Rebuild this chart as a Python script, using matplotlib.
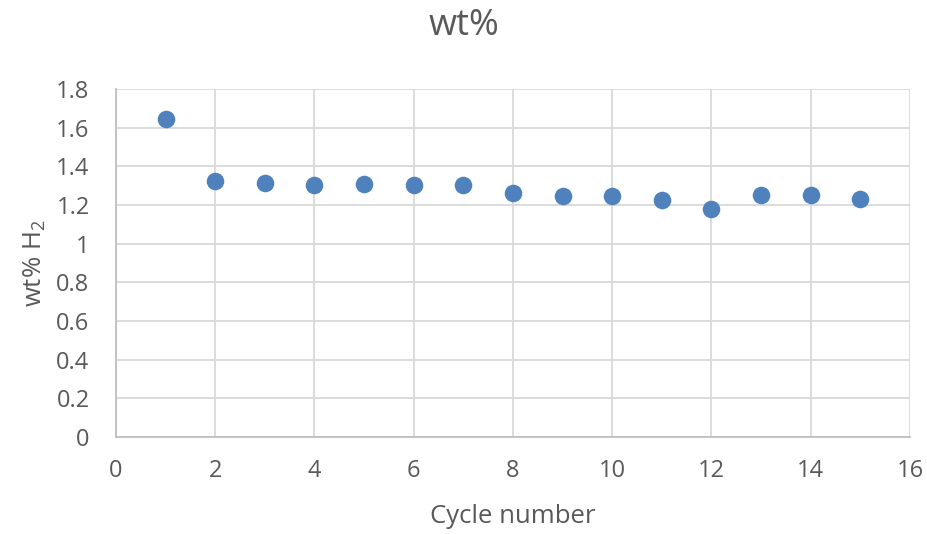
import matplotlib
matplotlib.use("Agg")
import matplotlib.pyplot as plt
from matplotlib.ticker import FuncFormatter

# data
cycles = [1, 2, 3, 4, 5, 6, 7, 8, 9, 10, 11, 12, 13, 14, 15]
wt_h2 = [1.643, 1.323, 1.316, 1.306, 1.307, 1.304, 1.304, 1.262,
         1.247, 1.247, 1.225, 1.178, 1.250, 1.254, 1.233]
x_ticks = [0, 2, 4, 6, 8, 10, 12, 14, 16]
y_ticks = [0, 0.2, 0.4, 0.6, 0.8, 1.0, 1.2, 1.4, 1.6, 1.8]

plt.rcParams['font.family'] = ['Open Sans', 'DejaVu Sans']
plt.rcParams['mathtext.default'] = 'regular'
text_col = '#595959'

fig = plt.figure(figsize=(9.28, 5.34), dpi=100)
ax = fig.add_axes([0.125, 0.1816, 0.8556, 0.6517])

ax.scatter(cycles, wt_h2, s=160, color='#4F81BD', zorder=3, linewidths=0)

ax.set_xlim(0, 16)
ax.set_ylim(0, 1.8)
ax.set_xticks(x_ticks)
ax.set_yticks(y_ticks)
ax.yaxis.set_major_formatter(FuncFormatter(lambda v, p: '%g' % round(v, 1)))
ax.grid(True, color='#D9D9D9', linewidth=1.3)
ax.set_axisbelow(True)
ax.tick_params(length=0, labelsize=17, labelcolor=text_col)
ax.tick_params(axis='x', pad=16)
ax.tick_params(axis='y', pad=19)

for side in ['top', 'right']:
    ax.spines[side].set_visible(False)
for side in ['left', 'bottom']:
    ax.spines[side].set_color('#BFBFBF')
    ax.spines[side].set_linewidth(1.3)

# chart title centred on the whole figure, like the spreadsheet chart
fig.text(0.5, 1 - 26 / 534, 'wt%', fontsize=26, color=text_col,
         ha='center', va='center')

ax.set_xlabel('Cycle number', fontsize=18.5, color=text_col)
ax.xaxis.label.set_va('center')
ax.xaxis.set_label_coords(0.5, -(516 - 437) / 348)

ax.set_ylabel('wt% H$_2$', fontsize=18.5, color=text_col)
ax.yaxis.label.set_rotation_mode('default')
ax.yaxis.label.set_va('center')
ax.yaxis.label.set_ha('center')
ax.yaxis.set_label_coords(-(116 - 35) / 794, 0.5)

fig.savefig('out.png', dpi=100)
